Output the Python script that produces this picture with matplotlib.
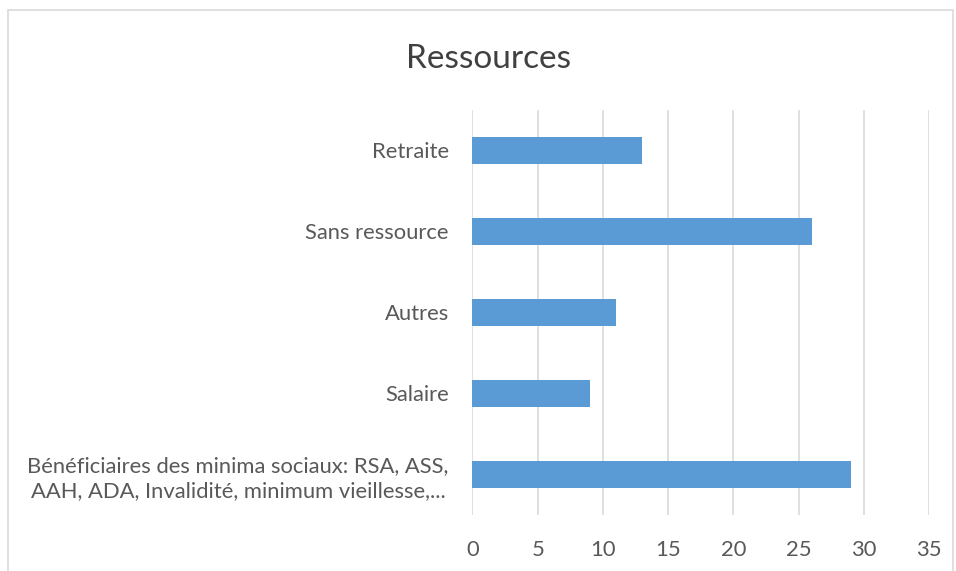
import matplotlib
matplotlib.use("Agg")
import matplotlib.pyplot as plt
from matplotlib.patches import Rectangle

# data, bottom to top
categories = [
    "Bénéficiaires des minima sociaux: RSA, ASS,\nAAH, ADA, Invalidité, minimum vieillesse,...",
    "Salaire",
    "Autres",
    "Sans ressource",
    "Retraite",
]
values = [29, 9, 11, 26, 13]
x_ticks = [0, 5, 10, 15, 20, 25, 30, 35]

plt.rcParams["font.family"] = ["Lato", "DejaVu Sans"]

fig = plt.figure(figsize=(9.56, 5.71), dpi=100)
ax = fig.add_axes([0.4942, 0.0981, 0.4776, 0.7093])

pos = list(range(len(categories)))
ax.barh(pos, values, height=0.34, color="#5B9BD5", zorder=3)

ax.set_xlim(0, 35)
ax.set_ylim(-0.5, len(categories) - 0.5)
ax.set_xticks(x_ticks)
ax.set_yticks(pos)
ax.set_yticklabels(categories, multialignment="center", linespacing=1.3)
ax.grid(axis="x", color="#D9D9D9", linewidth=1.2, zorder=0)
for s in ax.spines.values():
    s.set_visible(False)
ax.tick_params(axis="both", length=0, labelcolor="#595959", labelsize=15.8)
ax.tick_params(axis="x", pad=18)
ax.tick_params(axis="y", pad=17)

fig.text(0.5115, 0.896, "Ressources", ha="center", va="center",
         fontsize=24, color="#404040")

# chart border
fig.patches.append(Rectangle((8 / 956, -0.01), 945 / 956, 1 - 10 / 571 + 0.01,
                             transform=fig.transFigure, fill=False,
                             edgecolor="#D9D9D9", linewidth=1.2))

fig.savefig("out.png", dpi=100)
